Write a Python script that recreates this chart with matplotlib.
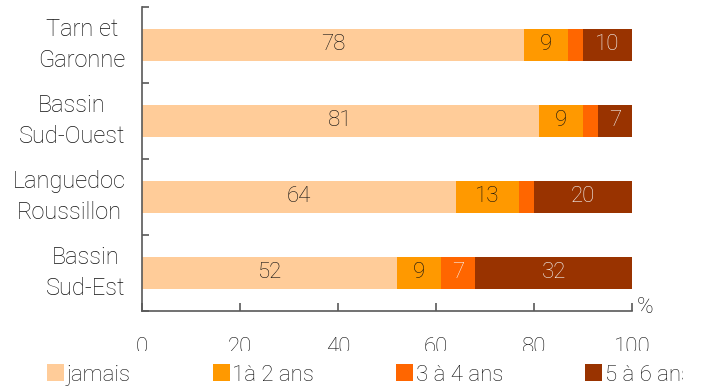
import matplotlib
matplotlib.use("Agg")
import matplotlib.pyplot as plt
from matplotlib.patches import Rectangle, Patch
import numpy as np

plt.rcParams['font.family'] = ['Roboto', 'DejaVu Sans']
plt.rcParams['font.weight'] = 'light'

categories = ["Tarn et\nGaronne", "Bassin\nSud-Ouest", "Languedoc\nRoussillon", "Bassin\nSud-Est"]
series_names = ["jamais", "1à 2 ans", "3 à 4 ans", "5 à 6 ans"]
jamais = [78, 81, 64, 52]
ans_1_2 = [9, 9, 13, 9]
ans_3_4 = [3, 3, 3, 7]
ans_5_6 = [10, 7, 20, 32]

colors = ["#FFCC99", "#FF9900", "#FF6600", "#993300"]
label_colors = ["#111111", "#111111", "#f5f5f5", "#f5f5f5"]
text_color = "#111111"
axis_color = "#595959"
fs = 16

fig = plt.figure(figsize=(7.05, 3.87), dpi=100)
ax = fig.add_axes([142 / 705, 1 - 311 / 387, 490 / 705, 304 / 387])

y = np.arange(len(categories))
left = np.zeros(len(categories))
for vals, name, col, lc in zip([jamais, ans_1_2, ans_3_4, ans_5_6], series_names, colors, label_colors):
    rects = ax.barh(y, vals, 0.41, left=left, color=col, label=name)
    labels = [str(v) if v >= 5 else "" for v in vals]
    ax.bar_label(rects, labels=labels, label_type="center", color=lc, fontsize=fs)
    left += np.array(vals)

ax.set_xlim(0, 100)
ax.set_ylim(3.5, -0.5)
ax.set_xticks(np.arange(0, 101, 20))
ax.set_yticks(y)
ax.set_yticklabels(categories, multialignment="center", linespacing=1.42, va="center")
ax.set_yticks(np.arange(-0.5, 4, 1), minor=True)
ax.tick_params(axis="y", which="major", length=0, pad=12, labelsize=17, labelcolor=text_color)
ax.tick_params(axis="y", which="minor", direction="in", length=5, width=1.2, color=axis_color)
ax.tick_params(axis="x", direction="in", length=6, width=1.2, color=axis_color,
               pad=19, labelsize=fs, labelcolor=text_color)
for s in ["top", "right"]:
    ax.spines[s].set_visible(False)
for s in ["left", "bottom"]:
    ax.spines[s].set_color(axis_color)
    ax.spines[s].set_linewidth(1.2)

ax.text(1.01, 0.01, "%", transform=ax.transAxes, ha="left", va="center",
        fontsize=fs, color=text_color)

# white band that hides the lower part of the tick labels, as in the original
fig.patches.append(Rectangle((0, 0), 1, 36 / 387, transform=fig.transFigure,
                             facecolor="white", edgecolor="none", zorder=2))

handles = [Patch(facecolor=c, edgecolor="none") for c in colors]
leg = fig.legend(handles, series_names, loc="center left", bbox_to_anchor=(47 / 705, 1 - 375 / 387),
                 ncol=4, frameon=False, fontsize=fs, borderpad=0, borderaxespad=0,
                 handlelength=0.77, handleheight=0.77, handletextpad=0.12, columnspacing=3.68,
                 labelcolor=text_color)
leg.set_zorder(5)

fig.patches.append(Rectangle((683 / 705, 0), 22 / 705, 36 / 387, transform=fig.transFigure,
                             facecolor="white", edgecolor="none", zorder=6))

fig.savefig("out.png", dpi=100)
